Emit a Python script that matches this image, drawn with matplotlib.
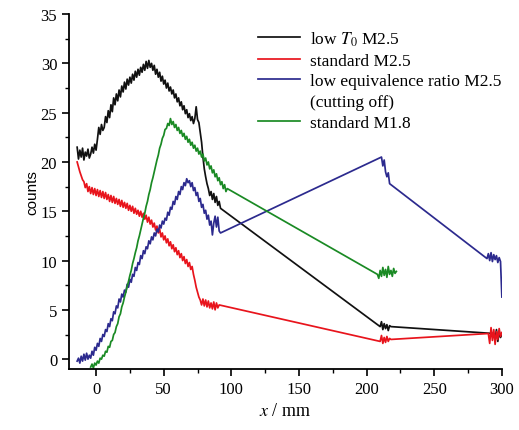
import matplotlib
matplotlib.use('Agg')
import matplotlib.pyplot as plt
from matplotlib.lines import Line2D
from matplotlib.ticker import MultipleLocator

plt.rcParams['font.family'] = ['Liberation Serif', 'DejaVu Serif']
plt.rcParams['mathtext.fontset'] = 'stix'

# ---- data ----
black_x = [-14, -13, -12, -11, -10, -9, -8, -7, -6, -5,
           -4, -3, -2, -1, 0, 1, 2, 3, 4, 5,
           6, 7, 8, 9, 10, 11, 12, 13, 14, 15,
           16, 17, 18, 19, 20, 21, 22, 23, 24, 25,
           26, 27, 28, 29, 30, 31, 32, 33, 34, 35,
           36, 37, 38, 39, 40, 41, 42, 43, 44, 45,
           46, 47, 48, 49, 50, 51, 52, 53, 54, 55,
           56, 57, 58, 59, 60, 61, 62, 63, 64, 65,
           66, 67, 68, 69, 70, 71, 72, 73, 74, 75,
           76, 77, 78, 79, 80, 81, 82, 83, 84, 85,
           86, 87, 88, 89, 90, 91, 92,
           210, 211, 212, 213, 214, 215, 216, 217, 218,
           294, 295, 296, 297, 298, 299, 300]
black_y = [21.5, 20.3, 21.2, 20.5, 21.4, 20.2, 21.0, 20.6, 21.3, 20.4,
           20.8, 21.5, 20.9, 21.8, 21.2, 22.3, 23.5, 22.8, 23.8, 23.2,
           23.5, 24.6, 24.0, 25.2, 24.5, 25.8, 25.1, 26.5, 25.8, 26.9,
           26.2, 27.3, 26.6, 27.7, 27.1, 28.1, 27.4, 28.4, 27.8, 28.6,
           28.0, 28.9, 28.3, 29.2, 28.6, 29.4, 28.8, 29.6, 29.1, 29.9,
           29.3, 30.2, 29.5, 30.3, 29.6, 30.0, 29.3, 29.8, 28.9, 29.4,
           28.6, 29.1, 28.2, 28.7, 27.9, 28.3, 27.5, 28.0, 27.2, 27.6,
           26.9, 27.3, 26.5, 26.9, 26.1, 26.5, 25.7, 26.1, 25.3, 25.7,
           24.9, 25.3, 24.5, 24.9, 24.2, 24.6, 23.9, 24.4, 25.6, 24.3,
           24.0, 23.0, 22.0, 20.5, 19.3, 18.5, 17.8, 17.3, 16.6, 17.0,
           16.2, 16.8, 15.9, 16.5, 15.6, 16.0, 15.3,
           3.3, 3.8, 3.0, 3.6, 3.1, 3.5, 2.9, 3.4, 3.3,
           2.6, 2.0, 3.0, 1.8, 2.8, 2.2, 2.5]

red_x = [-14, -13, -12, -11, -10, -9, -8, -7, -6, -5,
         -4, -3, -2, -1, 0, 1, 2, 3, 4, 5,
         6, 7, 8, 9, 10, 11, 12, 13, 14, 15,
         16, 17, 18, 19, 20, 21, 22, 23, 24, 25,
         26, 27, 28, 29, 30, 31, 32, 33, 34, 35,
         36, 37, 38, 39, 40, 41, 42, 43, 44, 45,
         46, 47, 48, 49, 50, 51, 52, 53, 54, 55,
         56, 57, 58, 59, 60, 61, 62, 63, 64, 65,
         66, 67, 68, 69, 70, 71, 72, 73, 74, 75,
         76, 77, 78, 79, 80, 81, 82, 83, 84, 85,
         86, 87, 88, 89, 90, 91,
         210, 211, 212, 213, 214, 215, 216, 217, 218,
         290, 291, 292, 293, 294, 295, 296, 297, 298, 299, 300]
red_y = [20.0, 19.5, 19.0, 18.6, 18.2, 18.0, 17.4, 17.8, 17.0, 17.5,
         16.8, 17.4, 16.7, 17.3, 16.6, 17.2, 16.5, 17.1, 16.4, 17.0,
         16.3, 16.9, 16.2, 16.7, 16.0, 16.6, 15.9, 16.5, 15.8, 16.3,
         15.7, 16.2, 15.5, 16.1, 15.4, 15.9, 15.3, 15.8, 15.1, 15.6,
         15.0, 15.5, 14.8, 15.3, 14.7, 15.1, 14.5, 15.0, 14.4, 14.8,
         14.2, 14.6, 13.9, 14.4, 13.7, 14.1, 13.4, 13.8, 13.1, 13.5,
         12.8, 13.2, 12.4, 12.8, 12.1, 12.5, 11.8, 12.2, 11.5, 11.9,
         11.2, 11.6, 10.9, 11.3, 10.6, 11.0, 10.3, 10.7, 10.0, 10.4,
         9.7, 10.1, 9.4, 9.8, 9.1, 9.4, 8.6, 8.0, 7.3, 6.8,
         6.3, 6.0, 5.5, 6.1, 5.4, 6.0, 5.3, 5.9, 5.2, 5.7,
         5.1, 5.8, 5.0, 5.7, 5.2, 5.5,
         1.8, 2.4, 1.6, 2.2, 1.7, 2.3, 1.8, 2.1, 2.0,
         2.6, 1.6, 3.2, 1.9, 3.0, 1.5, 2.8, 2.0, 3.1, 2.3, 2.7]

blue_x = [-14, -13, -12, -11, -10, -9, -8, -7, -6, -5,
          -4, -3, -2, -1, 0, 1, 2, 3, 4, 5,
          6, 7, 8, 9, 10, 11, 12, 13, 14, 15,
          16, 17, 18, 19, 20, 21, 22, 23, 24, 25,
          26, 27, 28, 29, 30, 31, 32, 33, 34, 35,
          36, 37, 38, 39, 40, 41, 42, 43, 44, 45,
          46, 47, 48, 49, 50, 51, 52, 53, 54, 55,
          56, 57, 58, 59, 60, 61, 62, 63, 64, 65,
          66, 67, 68, 69, 70, 71, 72, 73, 74, 75,
          76, 77, 78, 79, 80, 81, 82, 83, 84, 85,
          86, 87, 88, 89, 90, 91, 92,
          211, 212, 213, 214, 215, 216, 217,
          289, 290, 291, 292, 293, 294, 295, 296, 297, 298, 299, 300]
blue_y = [-0.2, 0.1, -0.4, 0.3, -0.2, 0.5, -0.1, 0.6, 0.0, 0.4,
          0.1, 0.8, 0.4, 1.2, 0.9, 1.6, 1.3, 2.1, 1.8, 2.5,
          2.3, 3.0, 2.8, 3.6, 3.3, 4.1, 3.9, 4.8, 4.6, 5.4,
          5.2, 6.1, 5.8, 6.6, 6.3, 7.0, 6.8, 7.6, 7.3, 8.1,
          7.8, 8.6, 8.4, 9.3, 9.0, 9.8, 9.6, 10.5, 10.2, 11.0,
          10.7, 11.4, 11.2, 12.0, 11.7, 12.4, 12.1, 12.8, 12.5, 13.2,
          12.9, 13.6, 13.3, 14.0, 13.7, 14.3, 14.1, 14.9, 14.6, 15.4,
          15.2, 16.0, 15.7, 16.5, 16.2, 17.0, 16.7, 17.5, 17.2, 17.9,
          17.6, 18.3, 17.9, 18.1, 17.5, 17.9, 17.1, 17.4, 16.6, 16.9,
          16.0, 16.3, 15.4, 15.7, 14.8, 15.1, 14.2, 14.6, 13.6, 14.0,
          12.6, 13.8, 14.5, 13.4, 14.4, 13.0, 12.8,
          20.5, 19.6, 20.2, 19.0, 18.5, 18.9, 17.8,
          10.2, 10.7, 10.0, 10.8, 9.9, 10.6, 10.1, 10.5, 9.8, 10.3, 9.9, 6.3]

green_x = [-4, -3, -2, -1, 0, 1, 2, 3, 4, 5,
           6, 7, 8, 9, 10, 11, 12, 13, 14, 15,
           16, 17, 18, 19, 20, 21, 22, 23, 24, 25,
           26, 27, 28, 29, 30, 31, 32, 33, 34, 35,
           36, 37, 38, 39, 40, 41, 42, 43, 44, 45,
           46, 47, 48, 49, 50, 51, 52, 53, 54, 55,
           56, 57, 58, 59, 60, 61, 62, 63, 64, 65,
           66, 67, 68, 69, 70, 71, 72, 73, 74, 75,
           76, 77, 78, 79, 80, 81, 82, 83, 84, 85,
           86, 87, 88, 89, 90, 91, 92, 93, 94, 95, 96, 97,
           208, 209, 210, 211, 212, 213, 214, 215, 216, 217, 218, 219, 220, 221, 222]
green_y = [-0.8, -0.5, -0.9, -0.4, -0.6, -0.2, -0.4, 0.1, 0.0, 0.4,
           0.3, 0.8, 0.7, 1.3, 1.2, 1.8, 1.9, 2.5, 2.7, 3.3,
           3.6, 4.3, 4.6, 5.3, 5.7, 6.3, 6.8, 7.4, 7.9, 8.5,
           9.0, 9.7, 10.2, 10.8, 11.3, 12.0, 12.5, 13.1, 13.7, 14.3,
           14.8, 15.5, 16.0, 16.7, 17.2, 17.9, 18.4, 19.0, 19.6, 20.2,
           20.7, 21.4, 21.8, 22.4, 22.7, 23.3, 23.4, 23.9, 23.7, 24.4,
           23.8, 24.1, 23.5, 23.8, 23.2, 23.5, 22.9, 23.2, 22.6, 22.9,
           22.3, 22.6, 22.0, 22.3, 21.7, 22.0, 21.4, 21.7, 21.1, 21.4,
           20.8, 21.1, 20.5, 20.8, 20.1, 20.4, 19.7, 20.0, 19.3, 19.6,
           18.9, 19.2, 18.5, 18.8, 18.1, 18.4, 17.7, 18.0, 17.3, 17.7, 17.0, 17.3,
           8.6, 8.2, 9.0, 8.4, 9.3, 8.5, 9.1, 8.3, 9.4, 8.6, 9.0, 8.4, 9.2, 8.7, 8.9]

labels = ['low $T_0$ M2.5', 'standard M2.5',
          'low equivalence ratio M2.5', 'standard M1.8']
colors = ['#111111', '#e8141c', '#2c2a8e', '#1a8a24']

fig = plt.figure(figsize=(5.19, 4.31), dpi=100)
ax = fig.add_axes([0.133, 0.1415, 0.834, 0.8235])

h1, = ax.plot(black_x, black_y, color=colors[0], lw=1.25)
h2, = ax.plot(red_x, red_y, color=colors[1], lw=1.25)
h3, = ax.plot(blue_x, blue_y, color=colors[2], lw=1.25)
h4, = ax.plot(green_x, green_y, color=colors[3], lw=1.25)

ax.set_xlim(-20, 300)
ax.set_ylim(-1, 35)
ax.xaxis.set_major_locator(MultipleLocator(50))
ax.xaxis.set_minor_locator(MultipleLocator(25))
ax.yaxis.set_major_locator(MultipleLocator(5))
ax.yaxis.set_minor_locator(MultipleLocator(2.5))
ax.spines['top'].set_visible(False)
ax.spines['right'].set_visible(False)
for s in ['left', 'bottom']:
    ax.spines[s].set_linewidth(1.3)
ax.tick_params(which='major', direction='out', length=5, width=1.2, labelsize=12)
ax.tick_params(which='minor', direction='out', length=3, width=1.0)

ax.set_ylabel('counts', family='Liberation Sans', fontsize=11, labelpad=1)
ax.set_xlabel('$x$ / mm', fontsize=13)

blank = Line2D([], [], color='none')
ax.legend([h1, h2, h3, blank, h4],
          [labels[0], labels[1], labels[2], '(cutting off)', labels[3]],
          loc='upper left', bbox_to_anchor=(0.4365, 0.957), frameon=False,
          fontsize=12.5, borderpad=0, borderaxespad=0, handlelength=2.4,
          handletextpad=0.6, labelspacing=0.27)

plt.savefig('out.png', dpi=100, facecolor='white')
plt.close()
